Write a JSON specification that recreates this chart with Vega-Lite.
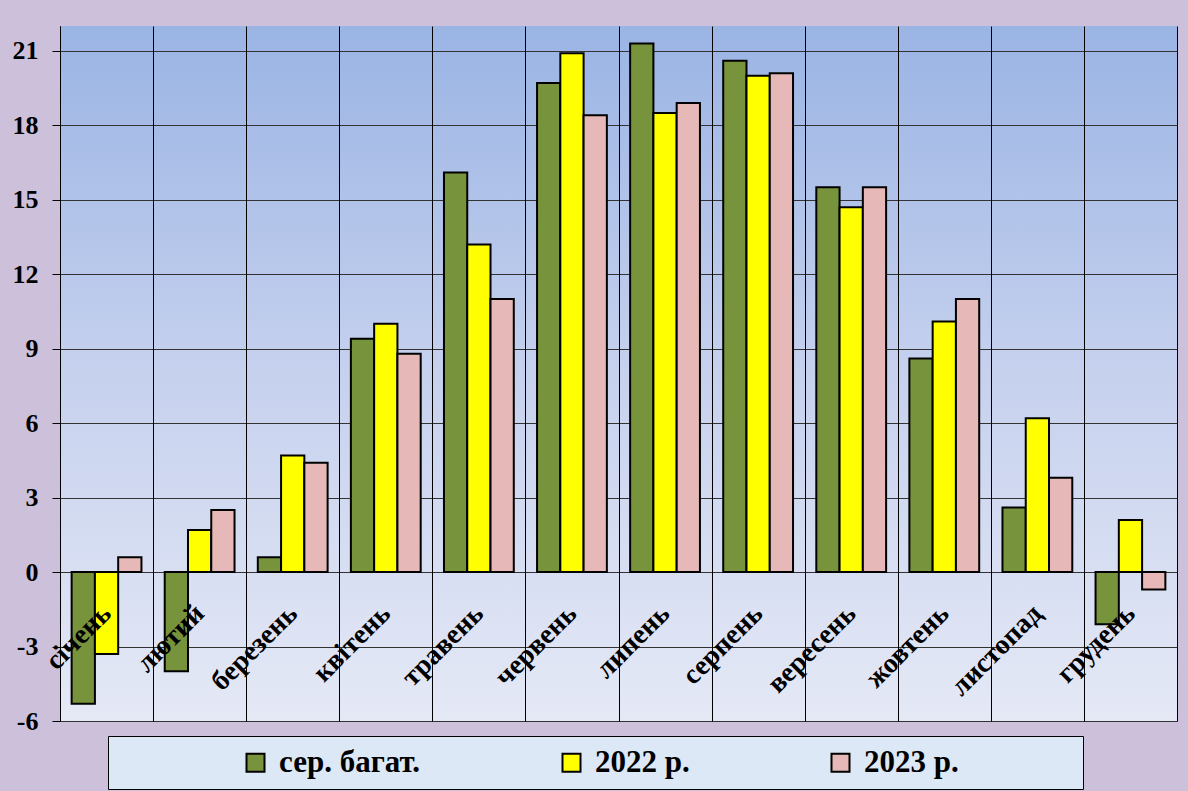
{
  "$schema": "https://vega.github.io/schema/vega-lite/v6.json",
  "width": 1117,
  "height": 695,
  "autosize": {"type": "none"},
  "padding": {"left": 60, "top": 26, "right": 11, "bottom": 70},
  "background": "#CCC0DA",
  "config": {
    "font": "Liberation Serif",
    "view": {
      "stroke": null,
      "fill": {"gradient": "linear", "x1": 0, "y1": 0, "x2": 0, "y2": 1, "stops": [{"offset": 0, "color": "#9AB4E4"}, {"offset": 0.5, "color": "#C6D1EE"}, {"offset": 1, "color": "#E5E9F6"}]}
    }
  },
  "data": {
    "values": [
      {"month": "січень", "series": "сер. багат.", "value": -5.3},
      {"month": "січень", "series": "2022 р.", "value": -3.3},
      {"month": "січень", "series": "2023 р.", "value": 0.6},
      {"month": "лютий", "series": "сер. багат.", "value": -4.0},
      {"month": "лютий", "series": "2022 р.", "value": 1.7},
      {"month": "лютий", "series": "2023 р.", "value": 2.5},
      {"month": "березень", "series": "сер. багат.", "value": 0.6},
      {"month": "березень", "series": "2022 р.", "value": 4.7},
      {"month": "березень", "series": "2023 р.", "value": 4.4},
      {"month": "квітень", "series": "сер. багат.", "value": 9.4},
      {"month": "квітень", "series": "2022 р.", "value": 10.0},
      {"month": "квітень", "series": "2023 р.", "value": 8.8},
      {"month": "травень", "series": "сер. багат.", "value": 16.1},
      {"month": "травень", "series": "2022 р.", "value": 13.2},
      {"month": "травень", "series": "2023 р.", "value": 11.0},
      {"month": "червень", "series": "сер. багат.", "value": 19.7},
      {"month": "червень", "series": "2022 р.", "value": 20.9},
      {"month": "червень", "series": "2023 р.", "value": 18.4},
      {"month": "липень", "series": "сер. багат.", "value": 21.3},
      {"month": "липень", "series": "2022 р.", "value": 18.5},
      {"month": "липень", "series": "2023 р.", "value": 18.9},
      {"month": "серпень", "series": "сер. багат.", "value": 20.6},
      {"month": "серпень", "series": "2022 р.", "value": 20.0},
      {"month": "серпень", "series": "2023 р.", "value": 20.1},
      {"month": "вересень", "series": "сер. багат.", "value": 15.5},
      {"month": "вересень", "series": "2022 р.", "value": 14.7},
      {"month": "вересень", "series": "2023 р.", "value": 15.5},
      {"month": "жовтень", "series": "сер. багат.", "value": 8.6},
      {"month": "жовтень", "series": "2022 р.", "value": 10.1},
      {"month": "жовтень", "series": "2023 р.", "value": 11.0},
      {"month": "листопад", "series": "сер. багат.", "value": 2.6},
      {"month": "листопад", "series": "2022 р.", "value": 6.2},
      {"month": "листопад", "series": "2023 р.", "value": 3.8},
      {"month": "грудень", "series": "сер. багат.", "value": -2.1},
      {"month": "грудень", "series": "2022 р.", "value": 2.1},
      {"month": "грудень", "series": "2023 р.", "value": -0.7}
    ]
  },
  "mark": {"type": "bar", "stroke": "black", "strokeWidth": 2},
  "encoding": {
    "x": {
      "field": "month",
      "type": "nominal",
      "sort": ["січень", "лютий", "березень", "квітень", "травень", "червень", "липень", "серпень", "вересень", "жовтень", "листопад", "грудень"],
      "scale": {"paddingInner": 0, "paddingOuter": 0},
      "axis": {
        "title": null,
        "zindex": 1,
        "labelAngle": -45,
        "labelAlign": "right",
        "labelBaseline": "middle",
        "labelFont": "Liberation Serif",
        "labelFontWeight": "bold",
        "labelFontSize": 28,
        "labelColor": "black",
        "offset": -114,
        "labelPadding": 2,
        "domain": false,
        "ticks": false,
        "grid": true,
        "gridColor": "black",
        "gridOpacity": 1,
        "gridWidth": 1,
        "tickBand": "extent"
      }
    },
    "xOffset": {
      "field": "series",
      "type": "nominal",
      "sort": ["сер. багат.", "2022 р.", "2023 р."],
      "scale": {"paddingInner": 0, "paddingOuter": 0.5}
    },
    "y": {
      "field": "value",
      "type": "quantitative",
      "scale": {"domain": [-6, 22], "nice": false, "zero": false},
      "axis": {
        "title": null,
        "values": [-6, -3, 0, 3, 6, 9, 12, 15, 18, 21],
        "labelExpr": "'' + datum.value",
        "tickSize": 8,
        "tickColor": "black",
        "domainColor": "black",
        "domainWidth": 1,
        "gridColor": "#333333",
        "gridOpacity": 1,
        "gridWidth": 1,
        "labelFont": "Liberation Serif",
        "labelFontWeight": "bold",
        "labelFontSize": 26,
        "labelColor": "black",
        "labelPadding": 14
      }
    },
    "color": {
      "field": "series",
      "type": "nominal",
      "sort": ["сер. багат.", "2022 р.", "2023 р."],
      "scale": {"domain": ["сер. багат.", "2022 р.", "2023 р."], "range": ["#77933C", "#FFFF00", "#E6B9B8"]},
      "legend": {
        "orient": "none",
        "legendX": 48,
        "legendY": 710,
        "direction": "horizontal",
        "fillColor": "#DCE8F5",
        "strokeColor": "black",
        "padding": 11,
        "symbolType": "square",
        "symbolSize": 324,
        "symbolStrokeColor": "black",
        "symbolStrokeWidth": 2,
        "symbolOpacity": 1,
        "symbolOffset": 121,
        "columnPadding": 14,
        "labelFont": "Liberation Serif",
        "labelFontSize": 31,
        "labelFontWeight": "bold",
        "labelColor": "black",
        "labelOffset": 8,
        "labelLimit": 400,
        "title": " ",
        "titleOrient": "right",
        "titlePadding": 113
      }
    }
  }
}
